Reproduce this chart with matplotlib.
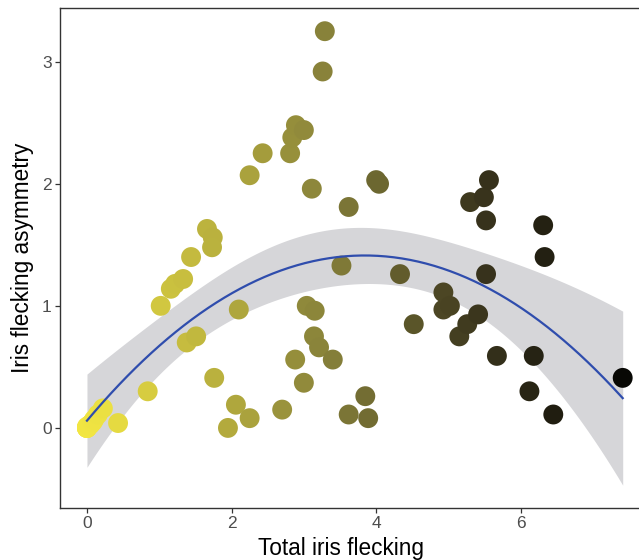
import numpy as np
import matplotlib
matplotlib.use("Agg")
import matplotlib.pyplot as plt
from matplotlib.colors import LinearSegmentedColormap

# total iris flecking (x) and iris flecking asymmetry (y)
# (the yellow blob at the origin hides several overlapping zero points)
flecking = [0.00, 0.00, 0.00, 0.00, 0.00, 0.03, 0.05, 0.08, 0.10, 0.15, 0.22,
            0.43, 0.84, 1.02, 1.16, 1.22,
            1.33, 1.38, 1.51, 1.44, 1.66, 1.74, 1.73, 1.76, 1.95, 2.06,
            2.25, 2.10, 2.25, 2.43, 2.70, 2.81, 2.84, 2.89, 3.00, 2.88,
            3.00, 3.04, 3.15, 3.14, 3.21, 3.11, 3.26, 3.29, 3.40, 3.52,
            3.62, 3.62, 3.85, 3.89, 4.00, 4.04, 4.33, 4.52, 4.93, 4.93,
            5.02, 5.15, 5.26, 5.41, 5.30, 5.49, 5.56, 5.52, 5.52, 5.67,
            6.12, 6.18, 6.31, 6.33, 6.45, 7.41]
asymmetry = [0.00, 0.00, 0.00, 0.00, 0.01, 0.02, 0.03, 0.05, 0.07, 0.11, 0.16,
             0.04, 0.30, 1.00, 1.14, 1.18,
             1.22, 0.70, 0.75, 1.40, 1.63, 1.56, 1.48, 0.41, 0.00, 0.19,
             0.08, 0.97, 2.07, 2.25, 0.15, 2.25, 2.38, 2.48, 2.44, 0.56,
             0.37, 1.00, 0.96, 0.75, 0.66, 1.96, 2.92, 3.25, 0.56, 1.33,
             1.81, 0.11, 0.26, 0.08, 2.03, 2.00, 1.26, 0.85, 1.11, 0.97,
             1.00, 0.75, 0.85, 0.93, 1.85, 1.89, 2.03, 1.70, 1.26, 0.59,
             0.30, 0.59, 1.66, 1.40, 0.11, 0.41]

x = np.array(flecking)
y = np.array(asymmetry)

# quadratic fit with 95% confidence band (like geom_smooth(method="lm", y ~ poly(x, 2)))
X = np.column_stack([np.ones_like(x), x, x ** 2])
beta, _, _, _ = np.linalg.lstsq(X, y, rcond=None)
resid = y - X @ beta
dof = len(x) - 3
s2 = resid @ resid / dof
cov = s2 * np.linalg.inv(X.T @ X)
t_crit = 1.996  # t(0.975, ~69 df)

xs = np.linspace(x.min(), x.max(), 200)
Xs = np.column_stack([np.ones_like(xs), xs, xs ** 2])
fit = Xs @ beta
se = np.sqrt(np.einsum("ij,jk,ik->i", Xs, cov, Xs))

cmap = LinearSegmentedColormap.from_list(
    "flecks",
    [(0.0, "#F2E642"), (0.45, "#86803A"), (0.74, "#38331C"), (1.0, "#080805")])

fig = plt.figure(figsize=(6.39, 5.6), dpi=100)
ax = fig.add_axes([60 / 639, 52 / 560, 588 / 639, 500 / 560])

ax.fill_between(xs, fit - t_crit * se, fit + t_crit * se, color="#D6D6D9", lw=0, zorder=1)
ax.scatter(x, y, c=x, cmap=cmap, vmin=x.min(), vmax=x.max(), s=205, lw=0, zorder=2)
ax.plot(xs, fit, color="#2F4DAD", lw=1.6, zorder=3)

ax.set_xlim(-0.373, 7.76)
ax.set_ylim(-0.656, 3.44)
ax.set_xticks([0, 2, 4, 6])
ax.set_yticks([0, 1, 2, 3])

for sp in ax.spines.values():
    sp.set_color("#333333")
    sp.set_linewidth(1.0)

ax.tick_params(direction="out", length=3.5, width=0.9, color="#333333",
               labelsize=12.5, labelcolor="#4D4D4D", pad=2.5)
for lab in ax.get_xticklabels() + ax.get_yticklabels():
    lab.set_fontfamily("Liberation Sans")

ax.set_xlabel("Total iris flecking", fontsize=16.3, fontfamily="Liberation Sans")
ax.set_ylabel("Iris flecking asymmetry", fontsize=16.3, fontfamily="Liberation Sans", labelpad=6)
ax.xaxis.set_label_coords(0.478, -0.057)

fig.savefig("out.png", dpi=100)
